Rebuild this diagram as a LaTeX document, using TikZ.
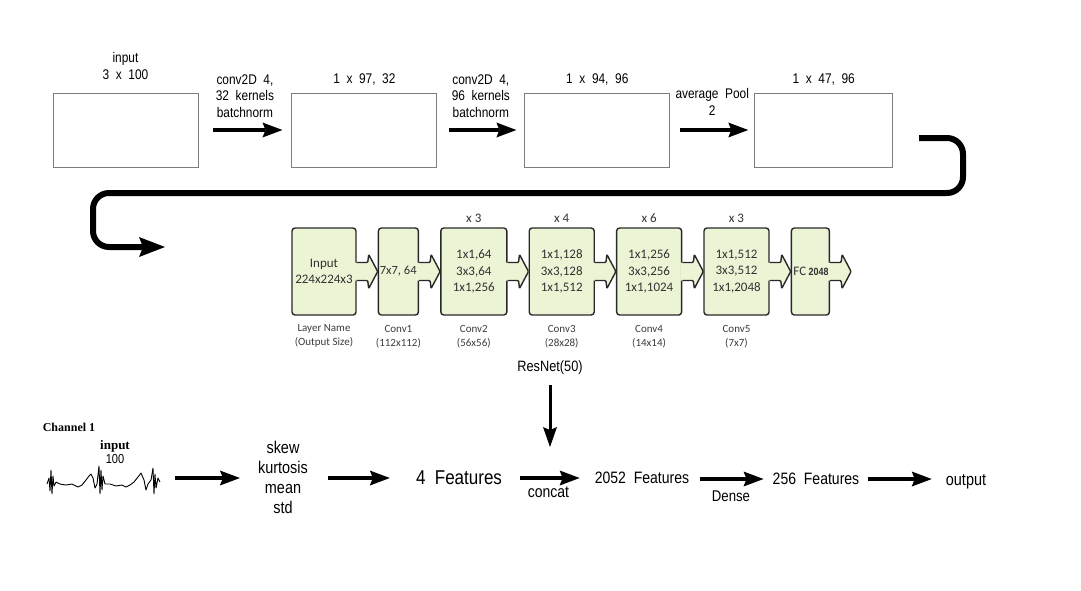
\documentclass[tikz,border=0pt]{standalone}
\usepackage{fontspec}
\setmainfont{Liberation Sans}[FakeStretch=0.85, WordSpace=2]
\newfontfamily\resfont{Carlito}
\newfontfamily\chanfont{Liberation Serif}
\usetikzlibrary{arrows.meta, positioning, calc}

\definecolor{resgreen}{RGB}{236,244,214}
\definecolor{resedge}{RGB}{40,40,40}
\definecolor{restext}{RGB}{50,50,50}
\definecolor{boxgray}{RGB}{125,125,125}
\definecolor{subgray}{RGB}{60,60,60}

\tikzset{
    fmap/.style={rectangle, draw=boxgray, line width=0.9pt, minimum width=145pt, minimum height=74pt, inner sep=0pt},
    toptext/.style={font=\fontsize{14}{16.5}\selectfont, align=center, inner sep=1pt},
    flowarrow/.style={-{Stealth[length=20pt, width=15pt, inset=3pt, line width=0pt]}, line width=3.6pt},
    downarrow/.style={-{Stealth[length=20pt, width=14pt, inset=3pt, line width=0pt]}, line width=3pt},
    wraparrow/.style={-{Stealth[length=26pt, width=20pt, inset=4pt, line width=0pt]}, line width=6pt, rounded corners=16pt},
    resblock/.style={rectangle, draw=resedge, fill=resgreen, line width=1.4pt, rounded corners=3pt, minimum height=87pt, inner sep=2pt, align=center, text=restext, font=\resfont\fontsize{13}{16.5}\selectfont},
    tabline/.style={draw=resedge, line width=1.4pt, rounded corners=1pt},
    replabel/.style={font=\resfont\fontsize{13}{14}\selectfont, text=restext, inner sep=1pt},
    sublabel/.style={font=\resfont\fontsize{11}{14}\selectfont, text=subgray, align=center, inner sep=1pt},
    flowtext/.style={font=\fontsize{16.5}{20}\selectfont, align=center, inner sep=2pt},
    sigline/.style={line width=0.9pt, line join=round}
}

\begin{document}
\begin{tikzpicture}[x=1pt, y=-1pt]
\useasboundingbox (0,0) rectangle (1081,590);

% conv front end
\node[fmap] (in1) at (125.5,130) {};
\node[fmap, right=93pt of in1] (fm1) {};
\node[fmap, right=87pt of fm1] (fm2) {};
\node[fmap, right=84pt of fm2, minimum width=138pt] (fm3) {};

\node[toptext, above=12pt of in1] (in1lbl) {input\\3 x 100};
\node[toptext, above=6pt of fm1] (fm1lbl) {1 x 97, 32};
\node[toptext, above=6pt of fm2] (fm2lbl) {1 x 94, 96};
\node[toptext, above=6pt of fm3] (fm3lbl) {1 x 47, 96};

\draw[flowarrow, shorten <=15pt, shorten >=9pt] (in1) -- node[toptext, above=10pt] (a1lbl) {conv2D 4,\\32 kernels\\batchnorm} (fm1);
\draw[flowarrow, shorten <=12pt, shorten >=8pt] (fm1) -- node[toptext, above=10pt] (a2lbl) {conv2D 4,\\96 kernels\\batchnorm} (fm2);
\draw[flowarrow, shorten <=10pt, shorten >=6pt] (fm2) -- node[toptext, above=12pt] (a3lbl) {average Pool\\2} (fm3);

% wrap down to the resnet row
\coordinate (wrapstart) at (919,138);
\coordinate (wrapend) at (165,247);
\draw[wraparrow] (wrapstart) -- (963,138) -- (963,193) -- (93,193) -- (93,247) -- (wrapend);

% resnet-50 stages
\node[resblock, minimum width=64pt] (inp) at (324,271.5) {Input\\224x224x3};
\node[resblock, minimum width=40pt, inner xsep=0pt, right=21pt of inp] (c1) {\makebox[40pt][l]{\hspace{1.5pt}\fontsize{12.5}{15}\selectfont 7x7, 64}};
\node[resblock, minimum width=66pt, right=21pt of c1] (c2) {1x1,64\\3x3,64\\1x1,256};
\node[resblock, minimum width=65pt, right=21pt of c2] (c3) {1x1,128\\3x3,128\\1x1,512};
\node[resblock, minimum width=65pt, right=21pt of c3] (c4) {1x1,256\\3x3,256\\1x1,1024};
\node[resblock, minimum width=65pt, right=21pt of c4] (c5) {1x1,512\\3x3,512\\1x1,2048};
\node[resblock, minimum width=38pt, inner xsep=0pt, right=21pt of c5] (fc) {\makebox[38pt][l]{\hspace{2pt}FC\hspace{2.5pt}{\rmfamily\bfseries\fontsize{10.5}{12}\selectfont 2048}}};

\foreach \b in {inp,c1,c2,c3,c4,c5,fc}{
    \fill[resgreen] ([xshift=-2pt,yshift=9pt]\b.east) -- ++(13pt,0pt) -- ++(1pt,8pt) -- ++(9pt,-17pt) -- ++(-9pt,-17pt) -- ++(-1pt,8pt) -- ++(-13pt,0pt) -- cycle;
    \draw[tabline] ([yshift=9pt]\b.east) -- ++(11pt,0pt) -- ++(1pt,8pt) -- ++(9pt,-17pt) -- ++(-9pt,-17pt) -- ++(-1pt,8pt) -- ++(-11pt,0pt);
}

\node[replabel, above=4pt of c2] (c2rep) {x 3};
\node[replabel, above=4pt of c3] (c3rep) {x 4};
\node[replabel, above=4pt of c4] (c4rep) {x 6};
\node[replabel, above=4pt of c5] (c5rep) {x 3};

\node[sublabel, below=8pt of inp] (inpsub) {Layer Name\\(Output Size)};
\node[sublabel, below=8pt of c1] (c1sub) {Conv1\\(112x112)};
\node[sublabel, below=8pt of c2] (c2sub) {Conv2\\(56x56)};
\node[sublabel, below=8pt of c3] (c3sub) {Conv3\\(28x28)};
\node[sublabel, below=8pt of c4] (c4sub) {Conv4\\(14x14)};
\node[sublabel, below=8pt of c5] (c5sub) {Conv5\\(7x7)};

\node[flowtext, font=\fontsize{15}{18}\selectfont] (resnet) at (550,368) {ResNet(50)};
\coordinate (concattop) at (550,447);
\draw[downarrow, shorten <=8pt] (resnet) -- (concattop);

% statistics branch
\node[font=\chanfont\bfseries\fontsize{12}{13}\selectfont, inner sep=1pt] (chan) at (69,427) {Channel 1};
\node[font=\chanfont\bfseries\fontsize{13}{14}\selectfont, inner sep=1pt] (sigin) at (115,446) {input};
\node[font=\fontsize{13}{14}\selectfont, inner sep=1pt, below=0pt of sigin] (siglen) {100};
\node[minimum width=114pt, minimum height=30pt, inner sep=0pt] (sig) at (103,478) {};
\draw[sigline] plot coordinates {(47,484) (49,478) (50,491) (51,470) (52,494) (53,476) (54,486) (56,482) (60,484) (66,485) (72,484) (78,487) (82,485) (86,480) (89,476) (91,474) (93,478) (95,488) (97,484) (99,466) (100,494) (101,470) (102,490) (103,476) (105,484) (110,484) (116,486) (122,485) (126,487) (130,485) (134,482) (138,477) (141,473) (144,480) (146,490) (148,484) (151,480) (153,468) (154,494) (155,474) (156,488) (158,478) (160,482)};

\node[flowtext, font=\fontsize{17}{20}\selectfont] (stats) at (283,477) {skew\\kurtosis\\mean\\std};
\node[flowtext, font=\fontsize{20}{22}\selectfont] (feat4) at (459,478) {4 Features};
\node[flowtext] (feat2052) at (642,478) {2052 Features};
\node[flowtext] (feat256) at (816,479) {256 Features};
\node[flowtext, font=\fontsize{17}{20}\selectfont] (out) at (966,482) {output};

\draw[flowarrow, shorten <=15pt, shorten >=16pt] (sig.east) -- (sig.east -| stats.west);
\draw[flowarrow, shorten <=18pt, shorten >=24pt] (stats.east |- feat4) -- (feat4.west);
\draw[flowarrow, shorten <=16pt, shorten >=13pt] (feat4) -- node[flowtext, below=5pt] (concatlbl) {concat} (feat2052);
\draw[flowarrow, shorten <=9pt, shorten >=7pt] (feat2052.east |- feat256) -- node[flowtext, font=\fontsize{15.5}{18}\selectfont, below=8pt] (denselbl) {Dense} (feat256);
\draw[flowarrow, shorten <=7pt, shorten >=12pt] (feat256.east) -- (feat256.east -| out.west);

\end{tikzpicture}
\end{document}
